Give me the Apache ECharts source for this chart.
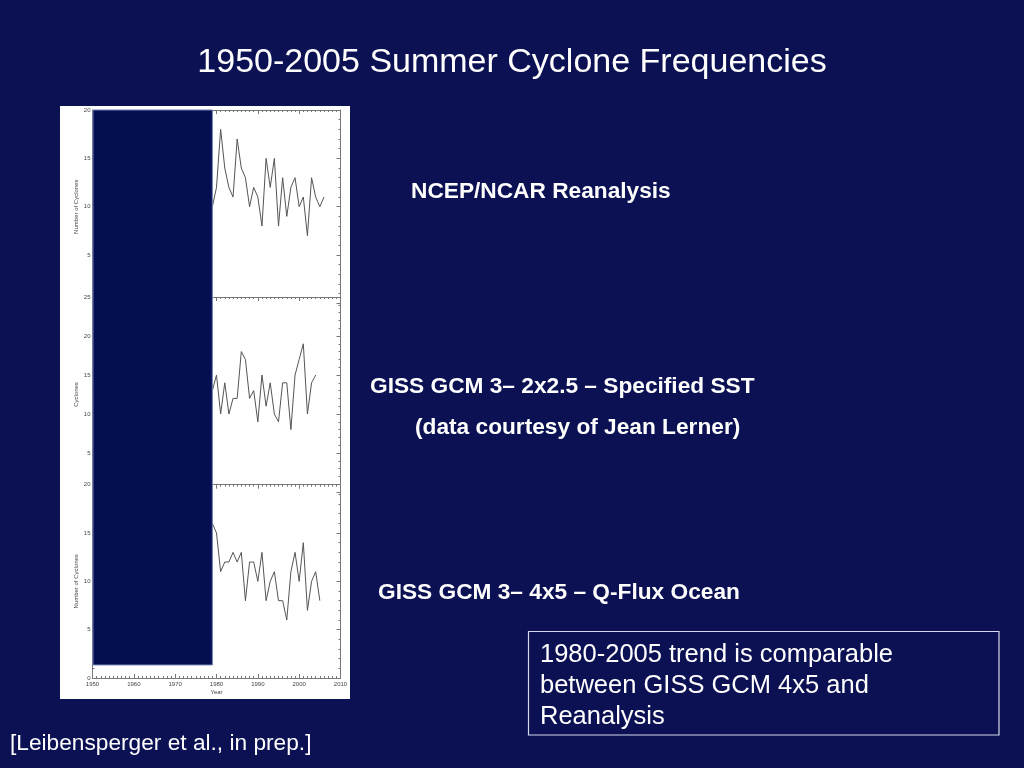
<!DOCTYPE html>
<html>
<head>
<meta charset="utf-8">
<script src="https://cdn.jsdelivr.net/npm/echarts@6/dist/echarts.min.js"></script>
<style>
html,body{margin:0;padding:0;background:#0b1153;}
#c{width:1024px;height:768px;}
</style>
</head>
<body>
<div id="c"></div>
<script>
// ---- data ----
const yearsNcep = [1979,1980,1981,1982,1983,1984,1985,1986,1987,1988,1989,1990,1991,1992,1993,1994,1995,1996,1997,1998,1999,2000,2001,2002,2003,2004,2005,2006];
const ncep      = [10,12,18,14,12,11,17,14,13,10,12,11,8,15,12,15,8,13,9,12,13,10,11,7,13,11,10,11];

const yearsGiss25 = [1979,1980,1981,1982,1983,1984,1985,1986,1987,1988,1989,1990,1991,1992,1993,1994,1995,1996,1997,1998,1999,2000,2001,2002,2003,2004];
const giss2x25    = [13,15,10,14,10,12,12,18,17,12,13,9,15,11,14,10,9,14,14,8,15,17,19,10,14,15];

const yearsGiss45 = [1979,1980,1981,1982,1983,1984,1985,1986,1987,1988,1989,1990,1991,1992,1993,1994,1995,1996,1997,1998,1999,2000,2001,2002,2003,2004,2005];
const giss4x5     = [16,15,11,12,12,13,12,13,8,12,12,10,13,8,10,11,8,8,6,11,13,10,14,7,10,11,8];

const xTickLabels = ['1950','1960','1970','1980','1990','2000','2010'];
const yMax = [20, 25, 20];
const coverEndYear = 1979;
const coverBottomValue = 1.35;

const texts = {
  title: '1950-2005 Summer Cyclone Frequencies',
  ncep: 'NCEP/NCAR Reanalysis',
  giss25: 'GISS GCM 3\u2013 2x2.5 \u2013 Specified SST',
  courtesy: '(data courtesy of Jean Lerner)',
  giss45: 'GISS GCM 3\u2013 4x5 \u2013 Q-Flux Ocean',
  box: ['1980-2005 trend is comparable', 'between GISS GCM 4x5 and', 'Reanalysis'],
  cite: '[Leibensperger et al., in prep.]'
};

// ---- chart ----
const FONT = '"Liberation Sans", Arial, sans-serif';
const AX = '#777';
const chart = echarts.init(document.getElementById('c'), null, {renderer: 'canvas'});

const grids = [
  {left: 92.5, top: 110,   width: 248, height: 193.4},
  {left: 92.5, top: 297,   width: 248, height: 195},
  {left: 92.5, top: 484.7, width: 248, height: 193.3}
];

function xAxis(gi, pos, visible, labels, name) {
  return {
    type: 'value', gridIndex: gi, position: pos, min: 1950, max: 2010, interval: 10,
    show: visible,
    name: name || '', nameLocation: 'middle', nameGap: 11,
    nameTextStyle: {fontSize: 6, color: '#444', fontFamily: FONT},
    axisLine: {show: true, onZero: false, lineStyle: {color: AX, width: 1}},
    axisTick: {show: true, inside: true, length: 4, lineStyle: {color: AX, width: 1}},
    minorTick: {show: true, splitNumber: 10, length: 2, lineStyle: {color: AX, width: 1}},
    axisLabel: {show: labels, fontSize: 6, color: '#444', margin: 3, fontFamily: FONT,
      formatter: v => xTickLabels[Math.round((v - 1950) / 10)] || ''},
    splitLine: {show: false}
  };
}
function yAxis(gi, pos, labels, name, max, hideMin) {
  return {
    type: 'value', gridIndex: gi, position: pos, min: 0, max: max, interval: 5,
    name: name || '', nameLocation: 'middle', nameGap: 13, nameRotate: 90,
    nameTextStyle: {fontSize: 6, color: '#444', fontFamily: FONT},
    axisLine: {show: true, onZero: false, lineStyle: {color: AX, width: 1}},
    axisTick: {show: true, inside: true, length: 4, lineStyle: {color: AX, width: 1}},
    minorTick: {show: true, splitNumber: 5, length: 2, lineStyle: {color: AX, width: 1}},
    axisLabel: {show: labels, fontSize: 6, color: '#444', margin: 2, fontFamily: FONT,
      showMinLabel: !hideMin},
    splitLine: {show: false}
  };
}

const xAxes = [
  xAxis(0, 'bottom', false, false),            // 0 data axis panel 1 (hidden; covered by panel 2)
  xAxis(0, 'top', true, false),                // 1
  xAxis(1, 'bottom', false, false),            // 2
  xAxis(1, 'top', true, false),                // 3
  xAxis(2, 'bottom', true, true, 'Year'),      // 4
  xAxis(2, 'top', true, false)                 // 5
];
const yAxes = [
  yAxis(0, 'left', true, 'Number of Cyclones', yMax[0], true),  // 0
  yAxis(0, 'right', false, '', yMax[0], true),                  // 1
  yAxis(1, 'left', true, 'Cyclones', yMax[1], true),            // 2
  yAxis(1, 'right', false, '', yMax[1], true),                  // 3
  yAxis(2, 'left', true, 'Number of Cyclones', yMax[2], false), // 4
  yAxis(2, 'right', false, '', yMax[2], false)                  // 5
];

function lineSeries(xi, yi, years, vals) {
  return {
    type: 'line', xAxisIndex: xi, yAxisIndex: yi, symbol: 'none', animation: false,
    lineStyle: {color: '#555', width: 1}, z: 2,
    data: years.map((y, i) => [y, vals[i]])
  };
}

chart.setOption({
  backgroundColor: '#0b1153',
  animation: false,
  grid: grids,
  xAxis: xAxes,
  yAxis: yAxes,
  series: [
    lineSeries(0, 0, yearsNcep, ncep),
    lineSeries(2, 2, yearsGiss25, giss2x25),
    lineSeries(4, 4, yearsGiss45, giss4x5)
  ],
  graphic: [
    {type: 'rect', id: 'paper', z: -10, silent: true,
     shape: {x: 60, y: 106, width: 290, height: 593}, style: {fill: '#ffffff'}}
  ]
});

// cover block computed from the library's own scales
const tl = chart.convertToPixel({xAxisIndex: 0, yAxisIndex: 0}, [1950, yMax[0]]);
const br = chart.convertToPixel({xAxisIndex: 4, yAxisIndex: 4}, [coverEndYear, coverBottomValue]);

function txt(id, s, x, y, size, bold, align) {
  return {type: 'text', id: id, z: 200, silent: true,
    style: {text: s, x: x, y: y, fill: '#ffffff',
      font: (bold ? 'bold ' : '') + size + 'px ' + FONT,
      textAlign: align || 'left', textVerticalAlign: 'middle'}};
}

chart.setOption({
  graphic: [
    {type: 'rect', id: 'paper', z: -10, silent: true,
     shape: {x: 60, y: 106, width: 290, height: 593}, style: {fill: '#ffffff'}},
    {type: 'rect', id: 'cover', z: 100, silent: true,
     shape: {x: tl[0] + 0.5, y: tl[1], width: br[0] - tl[0] - 0.5, height: br[1] - tl[1]},
     style: {fill: '#040f52', stroke: '#6f7fb4', lineWidth: 1}},
    txt('title', texts.title, 512, 63, 34, false, 'center'),
    txt('ncep', texts.ncep, 411, 191.5, 22.7, true),
    txt('g25', texts.giss25, 370, 386.5, 22.7, true),
    txt('court', texts.courtesy, 415, 427.5, 22.7, true),
    txt('g45', texts.giss45, 378, 592.5, 22.7, true),
    {type: 'rect', id: 'box', z: 150, silent: true,
     shape: {x: 528.5, y: 631.5, width: 470.5, height: 103.5},
     style: {fill: 'none', stroke: '#d4daea', lineWidth: 1.2}},
    txt('b1', texts.box[0], 540, 654.5, 25.5, false),
    txt('b2', texts.box[1], 540, 686, 25.5, false),
    txt('b3', texts.box[2], 540, 717, 25.5, false),
    txt('cite', texts.cite, 10, 743.5, 22.7, false)
  ]
});
</script>
</body>
</html>
